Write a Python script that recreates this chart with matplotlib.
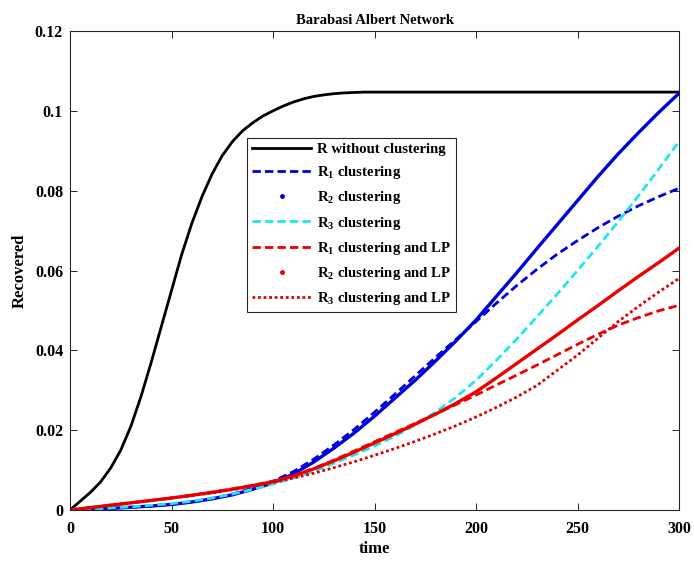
import matplotlib.pyplot as plt
from matplotlib.lines import Line2D
import numpy as np

plt.rcParams['font.family'] = ['Liberation Serif', 'DejaVu Serif']
plt.rcParams['font.weight'] = 'bold'
plt.rcParams['mathtext.fontset'] = 'custom'
plt.rcParams['mathtext.rm'] = 'Liberation Serif:bold'
plt.rcParams['mathtext.bf'] = 'Liberation Serif:bold'

# the no-clustering curve rises fast, so it gets a finer time grid
time_fine = [0, 5, 10, 15, 20, 25, 30, 35, 40, 45, 50, 55, 60, 65, 70, 75, 80, 85, 90,
             95, 100, 105, 110, 115, 120, 125, 130, 135, 140, 145, 150, 200, 250, 300]
r_no_clust = [0, 0.0022, 0.0044, 0.0070, 0.0105, 0.0150, 0.0210, 0.0285, 0.0370, 0.0460,
              0.0550, 0.0640, 0.0718, 0.0785, 0.0842, 0.0888, 0.0923, 0.0950, 0.0970,
              0.0987, 0.1000, 0.1012, 0.1022, 0.1030, 0.1036, 0.1040, 0.1043, 0.1045,
              0.1046, 0.1047, 0.1047, 0.1047, 0.1047, 0.1047]

time = np.arange(0, 301, 10)
r1_clust = [0, 0.0002, 0.0004, 0.0007, 0.0010, 0.0014, 0.0020, 0.0029, 0.0040, 0.0055,
            0.0072, 0.0096, 0.0127, 0.0163, 0.0202, 0.0245, 0.0290, 0.0336, 0.0382, 0.0427,
            0.0472, 0.0518, 0.0562, 0.0603, 0.0641, 0.0675, 0.0707, 0.0736, 0.0762, 0.0785,
            0.0806]
r2_clust = [0, 0.0002, 0.0004, 0.0007, 0.0010, 0.0014, 0.0020, 0.0028, 0.0038, 0.0052,
            0.0068, 0.0090, 0.0120, 0.0155, 0.0193, 0.0235, 0.0280, 0.0325, 0.0373, 0.0423,
            0.0476, 0.0535, 0.0594, 0.0655, 0.0715, 0.0775, 0.0835, 0.0892, 0.0945, 0.0996,
            0.1044]
r3_clust = [0, 0.0002, 0.0005, 0.0008, 0.0012, 0.0016, 0.0022, 0.0030, 0.0040, 0.0052,
            0.0065, 0.0080, 0.0097, 0.0117, 0.0138, 0.0160, 0.0185, 0.0213, 0.0245, 0.0282,
            0.0325, 0.0375, 0.0428, 0.0484, 0.0541, 0.0600, 0.0660, 0.0722, 0.0787, 0.0854,
            0.0923]
r1_lp = [0, 0.0006, 0.0012, 0.0018, 0.0024, 0.0030, 0.0037, 0.0045, 0.0053, 0.0062,
         0.0072, 0.0086, 0.0104, 0.0125, 0.0148, 0.0171, 0.0194, 0.0217, 0.0240, 0.0264,
         0.0288, 0.0313, 0.0338, 0.0363, 0.0389, 0.0415, 0.0440, 0.0463, 0.0482, 0.0499,
         0.0513]
r2_lp = [0, 0.0006, 0.0012, 0.0018, 0.0024, 0.0030, 0.0037, 0.0044, 0.0052, 0.0061,
         0.0071, 0.0085, 0.0103, 0.0123, 0.0145, 0.0168, 0.0191, 0.0215, 0.0240, 0.0267,
         0.0296, 0.0331, 0.0367, 0.0403, 0.0439, 0.0476, 0.0512, 0.0549, 0.0585, 0.0620,
         0.0656]
r3_lp = [0, 0.0006, 0.0012, 0.0018, 0.0024, 0.0030, 0.0036, 0.0043, 0.0051, 0.0060,
         0.0069, 0.0080, 0.0092, 0.0106, 0.0121, 0.0137, 0.0154, 0.0172, 0.0191, 0.0211,
         0.0233, 0.0257, 0.0283, 0.0312, 0.0350, 0.0388, 0.0430, 0.0472, 0.0510, 0.0546,
         0.0580]

xticks = [0, 50, 100, 150, 200, 250, 300]
yticks = [0, 0.02, 0.04, 0.06, 0.08, 0.1, 0.12]
ytick_labels = ['0', '0.02', '0.04', '0.06', '0.08', '0.1', '0.12']

fig = plt.figure(figsize=(6.94, 5.61), dpi=100)
ax = fig.add_axes([0.1009, 0.0909, 0.8775, 0.8538])

lw = 2.0
blue, cyan, red = '#0000dd', '#22e5ee', '#ee0000'
ax.plot(time_fine, r_no_clust, color='black', lw=lw)
ax.plot(time, r1_clust, color=blue, lw=lw, dashes=(3, 1.5))
ax.plot(time, r2_clust, color=blue, lw=lw + 0.4)
ax.plot(time, r3_clust, color=cyan, lw=lw, dashes=(3, 1.5))
ax.plot(time, r1_lp, color=red, lw=lw, dashes=(3, 1.5))
ax.plot(time, r2_lp, color=red, lw=lw + 0.4)
ax.plot(time, r3_lp, color='#dd0000', lw=lw, dashes=(1, 1))

# the R2 series are dense dot markers, so the legend shows a single dot
handles = [
    Line2D([], [], color='black', lw=lw),
    Line2D([], [], color=blue, lw=lw, dashes=(3, 1.5)),
    Line2D([], [], color=blue, ls='none', marker='.', markersize=5),
    Line2D([], [], color=cyan, lw=lw, dashes=(3, 1.5)),
    Line2D([], [], color=red, lw=lw, dashes=(3, 1.5)),
    Line2D([], [], color=red, ls='none', marker='.', markersize=5),
    Line2D([], [], color='#dd0000', lw=lw, dashes=(1, 1)),
]
labels = [
    'R without clustering',
    r'R$_{1}$ clustering',
    r'R$_{2}$ clustering',
    r'R$_{3}$ clustering',
    r'R$_{1}$ clustering and LP',
    r'R$_{2}$ clustering and LP',
    r'R$_{3}$ clustering and LP',
]
leg = ax.legend(handles, labels, loc='upper left', bbox_to_anchor=(0.291, 0.777),
                fontsize=10.6, handlelength=4.0, labelspacing=0.55, handletextpad=0.4,
                borderpad=0.35, borderaxespad=0, fancybox=False, framealpha=1)
leg.get_frame().set_edgecolor('#262626')
leg.get_frame().set_linewidth(0.8)

ax.set_xlim(0, 300)
ax.set_ylim(0, 0.12)
ax.set_xticks(xticks)
ax.set_yticks(yticks)
ax.set_yticklabels(ytick_labels)
ax.tick_params(direction='in', top=True, right=True, labelsize=11.5, length=5,
               color='#262626', width=0.7)
ax.tick_params(axis='x', pad=8)
ax.tick_params(axis='y', pad=5)
for s in ax.spines.values():
    s.set_color('#262626')
    s.set_linewidth(0.8)

ax.set_title('Barabasi Albert Network', fontsize=10.5, fontweight='bold', pad=5)
ax.set_xlabel('time', fontsize=12, fontweight='bold', labelpad=3)
ax.set_ylabel('Recovered', fontsize=12, fontweight='bold', labelpad=5)

fig.savefig('out.png', dpi=100)
